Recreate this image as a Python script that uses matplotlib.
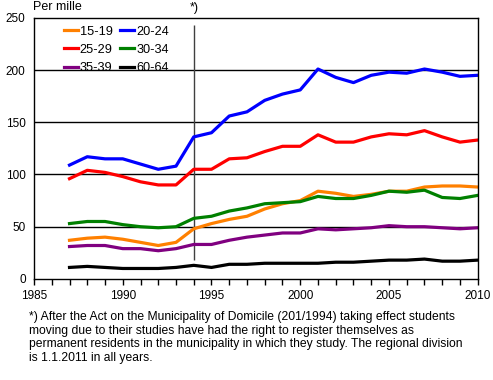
import numpy as np
import matplotlib.pyplot as plt
from matplotlib.ticker import MultipleLocator

# === DATA === #
years = list(range(1987, 2011))

age_15_19 = [37, 39, 40, 38, 35, 32, 35, 48, 53, 57, 60, 67, 72, 75, 84, 82, 79, 81, 84, 84, 88, 89, 89, 88]
age_20_24 = [109, 117, 115, 115, 110, 105, 108, 136, 140, 156, 160, 171, 177, 181, 201, 193, 188, 195, 198, 197, 201, 198, 194, 195]
age_25_29 = [96, 104, 102, 98, 93, 90, 90, 105, 105, 115, 116, 122, 127, 127, 138, 131, 131, 136, 139, 138, 142, 136, 131, 133]
age_30_34 = [53, 55, 55, 52, 50, 49, 50, 58, 60, 65, 68, 72, 73, 74, 79, 77, 77, 80, 84, 83, 85, 78, 77, 80]
age_35_39 = [31, 32, 32, 29, 29, 27, 29, 33, 33, 37, 40, 42, 44, 44, 48, 47, 48, 49, 51, 50, 50, 49, 48, 49]
age_60_64 = [11, 12, 11, 10, 10, 10, 11, 13, 11, 14, 14, 15, 15, 15, 15, 16, 16, 17, 18, 18, 19, 17, 17, 18]

footnote = ("*) After the Act on the Municipality of Domicile (201/1994) taking effect students\n"
            "moving due to their studies have had the right to register themselves as\n"
            "permanent residents in the municipality in which they study. The regional division\n"
            "is 1.1.2011 in all years.")

plt.rcParams['font.family'] = ['Liberation Sans', 'DejaVu Sans']
plt.rcParams['font.size'] = 8.5


def plot_chart():
    fig = plt.figure(figsize=(4.93, 3.8), dpi=100)
    ax = fig.add_axes([0.069, 0.266, 0.9, 0.687])

    for v in [50, 100, 150, 200]:
        ax.axhline(v, color='black', lw=1, zorder=1)
    ax.vlines(1994, 18, 243, color='#404040', lw=1, zorder=1)

    lw = 2.3
    l1, = ax.plot(years, age_15_19, color='#FF8000', lw=lw, label='15-19')
    l2, = ax.plot(years, age_20_24, color='#0000FF', lw=lw, label='20-24')
    l3, = ax.plot(years, age_25_29, color='#FF0000', lw=lw, label='25-29')
    l4, = ax.plot(years, age_30_34, color='#008000', lw=lw, label='30-34')
    l5, = ax.plot(years, age_35_39, color='#800080', lw=lw, label='35-39')
    l6, = ax.plot(years, age_60_64, color='black', lw=lw, label='60-64')

    ax.legend(handles=[l1, l3, l5, l2, l4, l6], ncol=2, frameon=False,
              loc='upper left', bbox_to_anchor=(0.05, 1.0), handlelength=1.1,
              handletextpad=0.15, columnspacing=0.6, labelspacing=0.5,
              borderaxespad=0.2, fontsize=9.2)

    ax.set_xlim(1985, 2010)
    ax.set_ylim(0, 250)
    ax.xaxis.set_major_locator(MultipleLocator(5))
    ax.xaxis.set_minor_locator(MultipleLocator(1))
    ax.yaxis.set_major_locator(MultipleLocator(50))
    ax.tick_params(axis='x', which='both', direction='out', length=4, width=1, pad=4)
    ax.tick_params(axis='y', length=0, pad=6)
    for s in ax.spines.values():
        s.set_linewidth(1)

    ax.text(1994, 254, '*)', ha='center', va='bottom', fontsize=9)
    fig.text(0.067, 0.965, 'Per mille', ha='left', va='bottom', fontsize=9)
    fig.text(0.059, 0.182, footnote, ha='left', va='top', fontsize=8.7, linespacing=1.2)

    fig.savefig('out.png', dpi=100)


def main():
    plot_chart()


if __name__ == '__main__': main()
